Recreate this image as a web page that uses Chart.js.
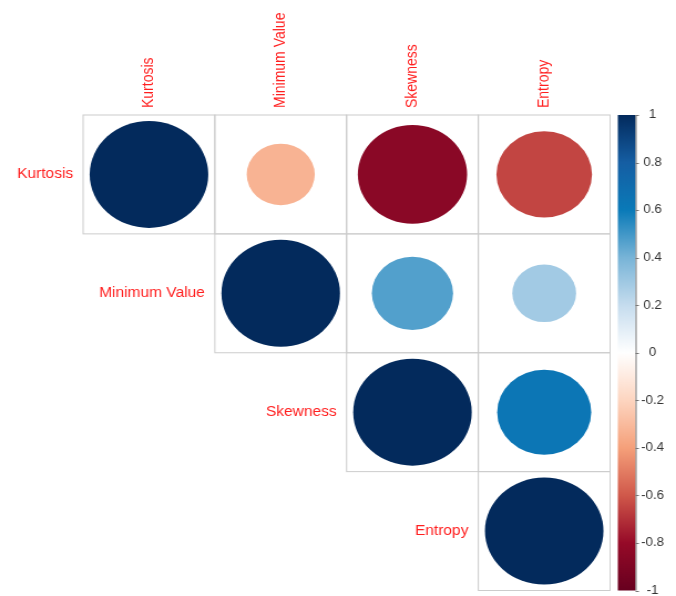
<!DOCTYPE html>
<html>
<head>
<meta charset="utf-8">
<title>Correlation plot</title>
<script src="https://cdn.jsdelivr.net/npm/chart.js@4/dist/chart.umd.min.js"></script>
<style>
    html, body { margin: 0; padding: 0; background: #fff; overflow: hidden; }
    #wrap { width: 610px; height: 596px; transform: scaleX(1.1082); transform-origin: 0 0; }
</style>
</head>
<body>
<div id="wrap"><canvas id="corrChart" width="610" height="596"></canvas></div>
<script>
// variables, in plot order
const varNames = ['Kurtosis', 'Minimum Value', 'Skewness', 'Entropy'];

// upper triangle of the correlation matrix, one row per variable
const kurtosisRow = [1, -0.33, -0.85, -0.65];
const minValueRow = [null, 1, 0.47, 0.29];
const skewnessRow = [null, null, 1, 0.63];
const entropyRow = [null, null, null, 1];
const corrRows = [kurtosisRow, minValueRow, skewnessRow, entropyRow];

// colour legend (RdBu ramp)
const legendStops = [-1, -0.8, -0.6, -0.4, -0.2, 0, 0.2, 0.4, 0.6, 0.8, 1];
const legendColors = ['#67001f', '#960a28', '#d0584a', '#f5a07a', '#fdd5c0', '#ffffff',
    '#c5dcee', '#78b4d7', '#0a7ab8', '#155ea3', '#032a5c'];

function hexToRgb(h) {
    return [parseInt(h.substr(1, 2), 16), parseInt(h.substr(3, 2), 16), parseInt(h.substr(5, 2), 16)];
}

function colorFor(v) {
    for (let i = 0; i < legendStops.length - 1; i++) {
        if (v <= legendStops[i + 1]) {
            const t = (v - legendStops[i]) / (legendStops[i + 1] - legendStops[i]);
            const a = hexToRgb(legendColors[i]);
            const b = hexToRgb(legendColors[i + 1]);
            return 'rgb(' + Math.round(a[0] + (b[0] - a[0]) * t) + ',' +
                Math.round(a[1] + (b[1] - a[1]) * t) + ',' +
                Math.round(a[2] + (b[2] - a[2]) * t) + ')';
        }
    }
    return legendColors[legendColors.length - 1];
}

const points = [];
corrRows.forEach(function (row, i) {
    row.forEach(function (v, j) {
        if (v !== null) points.push({ x: j + 0.5, y: i + 0.5, v: v });
    });
});

const labelFont = '14px "Liberation Sans", Arial, sans-serif';
const labelColor = '#ff1f1f';

// cell borders, variable names and the colour bar
const corrDecor = {
    id: 'corrDecor',
    beforeDatasetsDraw(chart) {
        const ctx = chart.ctx;
        const xs = chart.scales.x, ys = chart.scales.y, cb = chart.scales.cb;
        const n = varNames.length;

        ctx.save();
        ctx.strokeStyle = '#cccccc';
        ctx.lineWidth = 1;
        for (let i = 0; i < n; i++) {
            for (let j = i; j < n; j++) {
                const x0 = xs.getPixelForValue(j), x1 = xs.getPixelForValue(j + 1);
                const y0 = ys.getPixelForValue(i), y1 = ys.getPixelForValue(i + 1);
                ctx.strokeRect(x0, y0, x1 - x0, y1 - y0);
            }
        }

        ctx.font = labelFont;
        ctx.fillStyle = labelColor;
        // row names, left of the diagonal cell
        ctx.textAlign = 'right';
        ctx.textBaseline = 'middle';
        varNames.forEach(function (name, i) {
            ctx.fillText(name, xs.getPixelForValue(i) - 9, ys.getPixelForValue(i + 0.5));
        });
        // column names, rotated above the grid
        ctx.textAlign = 'left';
        varNames.forEach(function (name, j) {
            ctx.save();
            ctx.translate(xs.getPixelForValue(j + 0.5), ys.getPixelForValue(0) - 7);
            ctx.rotate(-Math.PI / 2);
            ctx.fillText(name, 0, 0);
            ctx.restore();
        });

        // colour bar
        const barLeft = chart.chartArea.right + 7;
        const barW = 16;
        const top = cb.getPixelForValue(1), bottom = cb.getPixelForValue(-1);
        const grad = ctx.createLinearGradient(0, bottom, 0, top);
        legendStops.forEach(function (s, k) {
            grad.addColorStop((s + 1) / 2, legendColors[k]);
        });
        ctx.fillStyle = grad;
        ctx.fillRect(barLeft, top, barW, bottom - top);

        ctx.strokeStyle = '#777777';
        ctx.beginPath();
        ctx.moveTo(barLeft + barW + 0.5, top);
        ctx.lineTo(barLeft + barW + 0.5, bottom);
        cb.ticks.forEach(function (t) {
            const y = Math.round(cb.getPixelForValue(t.value)) + 0.5;
            ctx.moveTo(barLeft + barW, y);
            ctx.lineTo(barLeft + barW + 3, y);
        });
        ctx.stroke();
        ctx.restore();
    }
};

// circle area follows |r|, a full circle fills 90% of the cell
function circleRadius(c) {
    if (!c.raw || !c.chart.chartArea) return 0;
    const xs = c.chart.scales.x;
    const cell = xs.getPixelForValue(1) - xs.getPixelForValue(0);
    if (!isFinite(cell)) return 0;
    return 0.45 * Math.sqrt(Math.abs(c.raw.v)) * cell;
}

new Chart(document.getElementById('corrChart'), {
    type: 'scatter',
    data: {
        datasets: [{
            data: points,
            showLine: false,
            pointStyle: 'circle',
            pointRadius: circleRadius,
            pointHoverRadius: circleRadius,
            pointBackgroundColor: function (c) { return c.raw ? colorFor(c.raw.v) : '#000'; },
            pointBorderWidth: 0,
            pointHoverBorderWidth: 0,
            clip: false
        }]
    },
    options: {
        responsive: false,
        animation: false,
        events: [],
        layout: { autoPadding: false, padding: { top: 115, left: 75, right: 0, bottom: 5.5 } },
        plugins: {
            legend: { display: false },
            tooltip: { enabled: false }
        },
        scales: {
            x: { type: 'linear', min: 0, max: 4, display: false },
            y: { type: 'linear', min: 0, max: 4, reverse: true, display: false },
            cb: {
                type: 'linear',
                axis: 'y',
                position: 'right',
                min: -1,
                max: 1,
                grid: { display: false, drawTicks: true, tickLength: 28 },
                border: { display: false },
                ticks: {
                    stepSize: 0.2,
                    padding: 0,
                    crossAlign: 'center',
                    color: '#333333',
                    font: { family: '"Liberation Sans", Arial, sans-serif', size: 12 },
                    callback: function (v) { return String(Math.round(v * 10) / 10); }
                },
                afterFit: function (scale) {
                    scale.width = 59.5;
                    scale.paddingTop = 0;
                    scale.paddingBottom = 0;
                }
            }
        }
    },
    plugins: [corrDecor]
});
</script>
</body>
</html>
